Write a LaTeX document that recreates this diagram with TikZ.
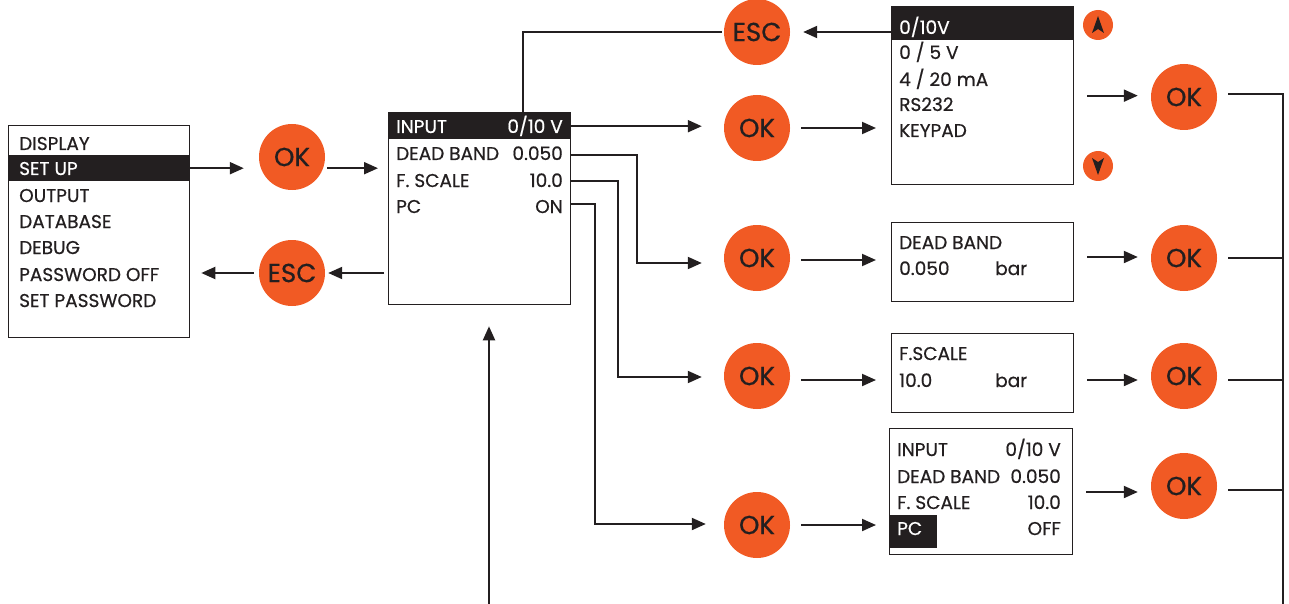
\documentclass[tikz,border=0pt]{standalone}
\usepackage{fontspec}
\setmainfont{Poppins}
\newfontfamily\uifont{Poppins}[FakeBold=0.6]
\usetikzlibrary{arrows.meta,calc}
\definecolor{okorange}{HTML}{F15A24}
\definecolor{ink}{HTML}{231F20}
\begin{document}
\begin{tikzpicture}[x=1pt,y=-1pt,
  screen/.style={draw=ink,line width=1.3pt,inner sep=0pt,anchor=north west},
  hl/.style={fill=ink,inner sep=0pt,anchor=north west},
  txt/.style={anchor=base west,inner sep=0pt,text=ink,font=\uifont\fontsize{18.5}{18.5}\selectfont},
  val/.style={anchor=base east,inner sep=0pt,text=ink,font=\uifont\fontsize{18.5}{18.5}\selectfont},
  wtxt/.style={txt,text=white},
  wval/.style={val,text=white},
  btn/.style={circle,fill=okorange,minimum size=66pt,inner sep=0pt,text=ink,font=\uifont\fontsize{26}{26}\selectfont},
  small/.style={circle,fill=okorange,minimum size=30pt,inner sep=0pt},
  wire/.style={draw=ink,line width=2pt},
  arr/.style={wire,-{Triangle[length=14pt,width=12pt]}}]
\useasboundingbox (0,0) rectangle (1289,604);

% ---- menu box
\node[screen,minimum width=181pt,minimum height=212pt] (menu) at (8,125) {};
\node[hl,minimum width=181pt,minimum height=26pt] (hlsetup) at (8,155) {};
\node[txt]  (m1) at (19,150) {DISPLAY};
\node[wtxt] (m2) at (19,175) {SET UP};
\node[txt]  (m3) at (19,202) {OUTPUT};
\node[txt]  (m4) at (19,228) {DATABASE};
\node[txt]  (m5) at (19,254) {DEBUG};
\node[txt]  (m6) at (19,281) {PASSWORD OFF};
\node[txt]  (m7) at (19,307) {SET PASSWORD};

% ---- middle box
\node[screen,minimum width=182pt,minimum height=192pt] (mid) at (388,112) {};
\node[hl,minimum width=182pt,minimum height=26pt] (hlin) at (388,113) {};
\node[wtxt] (r1) at (396,133) {INPUT};
\node[wval] (v1) at (563,133) {0/10 V};
\node[txt]  (r2) at (396,160) {DEAD BAND};
\node[val]  (v2) at (563,160) {0.050};
\node[txt]  (r3) at (396,187) {F. SCALE};
\node[val]  (v3) at (563,187) {10.0};
\node[txt]  (r4) at (396,213) {PC};
\node[val]  (v4) at (563,213) {ON};

% ---- selection box
\node[screen,minimum width=182pt,minimum height=178pt] (sel) at (891,6) {};
\node[hl,minimum width=182pt,minimum height=34pt] (hlsel) at (891,6) {};
\node[wtxt] (s1) at (899,34) {0/10V};
\node[txt]  (s2) at (899,59) {0 / 5 V};
\node[txt]  (s3) at (899,86) {4 / 20 mA};
\node[txt]  (s4) at (899,111) {RS232};
\node[txt]  (s5) at (899,137) {KEYPAD};

\node[small] (up) at (1098,25) {};
\fill[ink] ($(up)+(0,-9)$) -- ($(up)+(6,8)$) -- ($(up)+(0,4)$) -- ($(up)+(-6,8)$) -- cycle;
\node[small] (down) at (1098,166) {};
\fill[ink] ($(down)+(0,9)$) -- ($(down)+(6,-8)$) -- ($(down)+(0,-4)$) -- ($(down)+(-6,-8)$) -- cycle;

% ---- dead band box
\node[screen,minimum width=182pt,minimum height=79pt] (db) at (891,222) {};
\node[txt] (d1) at (899,249) {DEAD BAND};
\node[txt] (d2) at (899,275) {0.050};
\node[txt] (d3) at (995,275) {bar};

% ---- full scale box
\node[screen,minimum width=182pt,minimum height=79pt] (fs) at (891,333) {};
\node[txt] (f1) at (899,360) {F.SCALE};
\node[txt] (f2) at (899,387) {10.0};
\node[txt] (f3) at (995,387) {bar};

% ---- summary box
\node[screen,minimum width=183pt,minimum height=126pt] (sum) at (889,428) {};
\node[hl,minimum width=48pt,minimum height=33pt] (hlpc) at (889,515) {};
\node[txt]  (u1) at (897,456) {INPUT};
\node[val]  (w1) at (1061,456) {0/10 V};
\node[txt]  (u2) at (897,483) {DEAD BAND};
\node[val]  (w2) at (1061,483) {0.050};
\node[txt]  (u3) at (897,509) {F. SCALE};
\node[val]  (w3) at (1061,509) {10.0};
\node[wtxt] (u4) at (897,535) {PC};
\node[val]  (w4) at (1061,535) {OFF};

% ---- buttons
\node[btn] (okA)  at (292,157) {OK};
\node[btn] (escA) at (292,273) {ESC};
\node[btn] (escB) at (757,32)  {ESC};
\node[btn] (okB)  at (757,128) {OK};
\node[btn] (okC)  at (757,258) {OK};
\node[btn] (okD)  at (757,376) {OK};
\node[btn] (okF)  at (757,525) {OK};
\node[btn] (okE)  at (1184,97)  {OK};
\node[btn] (okG)  at (1184,258) {OK};
\node[btn] (okH)  at (1184,376) {OK};
\node[btn] (okI)  at (1184,486) {OK};

% ---- connectors
\draw[arr,shorten >=15pt] (hlsetup.east) -- (hlsetup.east -| okA.west);
\draw[arr,shorten <=2pt,shorten >=10pt] (okA.east |- hlsetup.east) -- (hlsetup.east -| mid.west);
\draw[arr,shorten <=4pt,shorten >=3pt] (mid.west |- escA) -- (escA.east);
\draw[arr,shorten <=5pt,shorten >=11pt] (escA.west) -- (escA.west -| menu.east);

\coordinate (topc) at (523,112);
\draw[wire,shorten >=2pt] (topc) |- (escB.west);
\draw[arr,shorten >=13pt] (sel.west |- escB) -- (escB.east);

\draw[arr,shorten >=22pt] (hlin.east) -- (hlin.east -| okB.west);
\draw[arr,shorten <=11pt,shorten >=15pt] (okB.east) -- (okB.east -| sel.west);

\coordinate (jC) at (637,155);
\coordinate (jD) at (618,181);
\coordinate (jF) at (595,204);
\draw[arr,shorten >=22pt] (mid.east |- jC) -- (jC) |- ($(okC.west)+(0,5)$);
\draw[arr,shorten >=22pt] (mid.east |- jD) -- (jD) |- ($(okD.west)+(0,1)$);
\draw[arr,shorten >=18pt] (mid.east |- jF) -- (jF) |- ($(okF.west)+(0,-1)$);

\draw[arr,shorten <=11pt,shorten >=15pt] ($(okC.east)+(0,2)$) -- ($(okC.east -| db.west)+(0,2)$);
\draw[arr,shorten <=11pt,shorten >=15pt] ($(okD.east)+(0,4)$) -- ($(okD.east -| fs.west)+(0,4)$);
\draw[arr,shorten <=11pt,shorten >=13pt] (okF.east) -- (okF.east -| sum.west);

\draw[arr,shorten <=13pt,shorten >=13pt] ($(sel.east)+(0,0)$) -- (sel.east -| okE.west);
\draw[arr,shorten <=13pt,shorten >=13pt] ($(db.east |- okG)+(0,-1)$) -- ($(okG.west)+(0,-1)$);
\draw[arr,shorten <=13pt,shorten >=13pt] ($(fs.east |- okH)+(0,4)$) -- ($(okH.west)+(0,4)$);
\draw[arr,shorten <=13pt,shorten >=13pt] ($(sum.east |- okI)+(0,6)$) -- ($(okI.west)+(0,6)$);

\coordinate (bus) at (1283,604);
\draw[wire,shorten <=11pt] ($(okE.east)+(0,-3)$) -| (bus);
\draw[wire,shorten <=11pt] (okG.east) -- (okG.east -| bus);
\draw[wire,shorten <=11pt] ($(okH.east)+(0,4)$) -- ($(okH.east -| bus)+(0,4)$);
\draw[wire,shorten <=11pt] ($(okI.east)+(0,4)$) -- ($(okI.east -| bus)+(0,4)$);

\coordinate (inlet) at (489,604);
\draw[arr,shorten >=21pt] (inlet) -- (inlet |- mid.south);
\end{tikzpicture}
\end{document}
